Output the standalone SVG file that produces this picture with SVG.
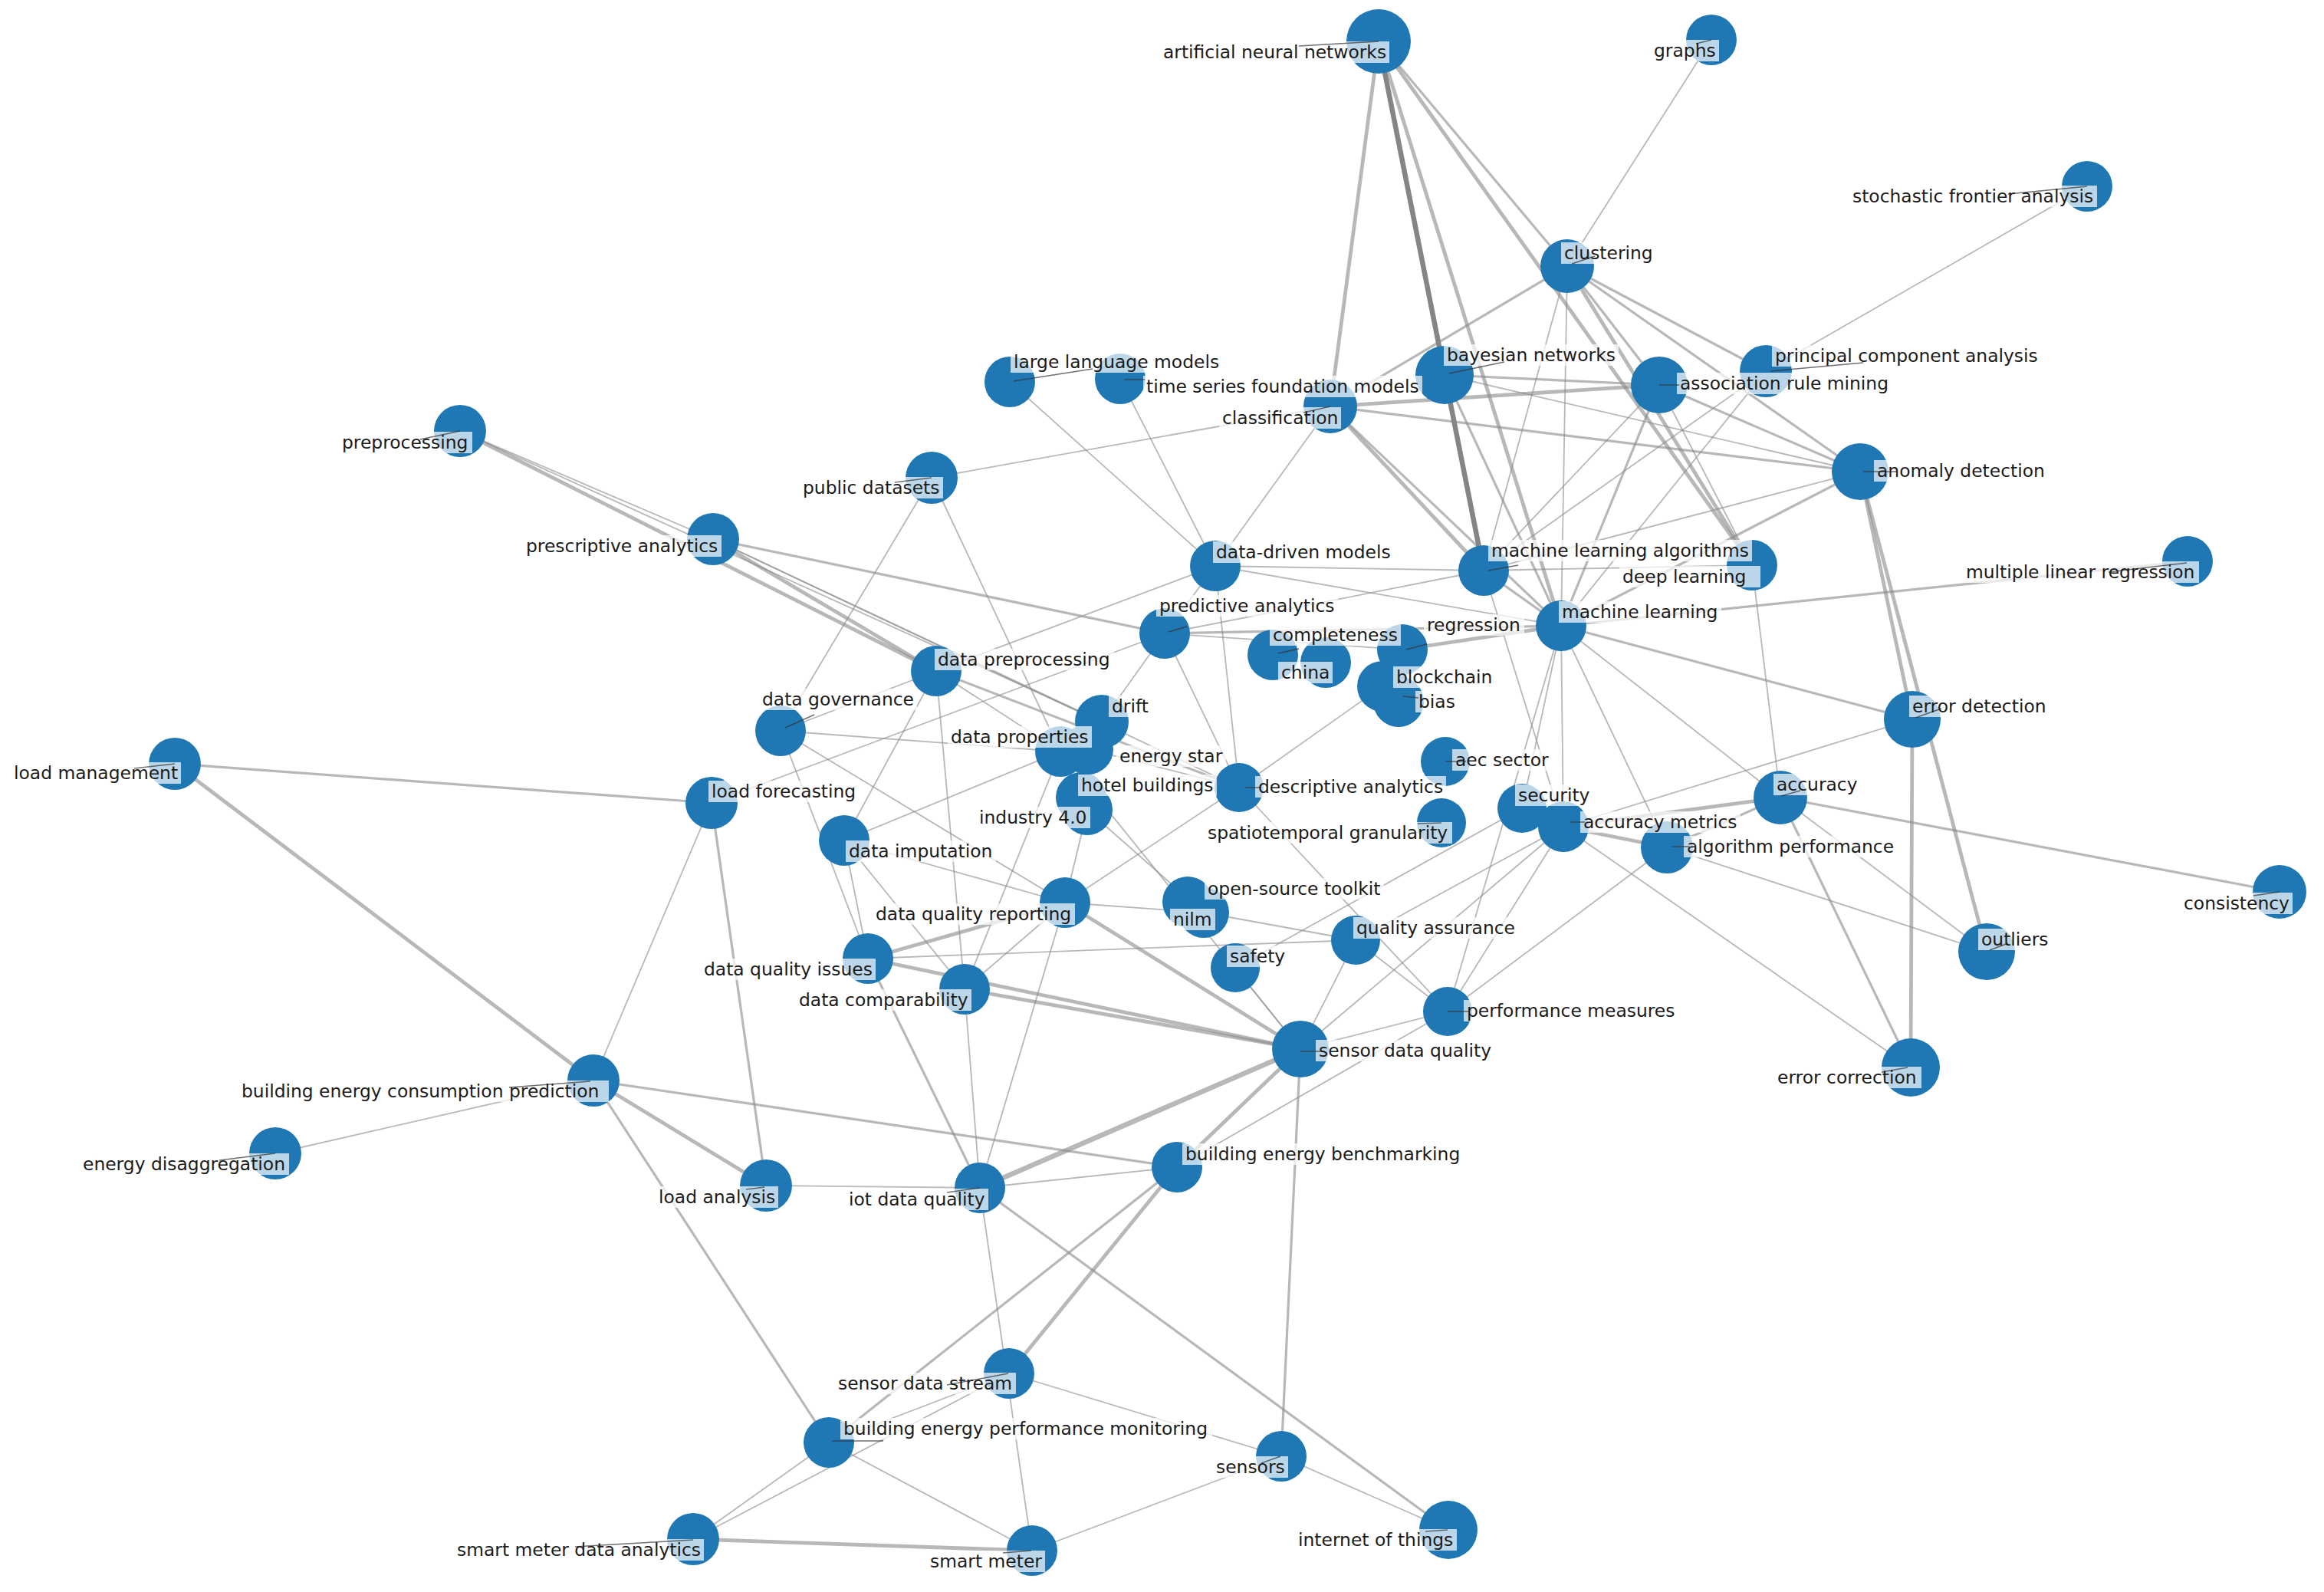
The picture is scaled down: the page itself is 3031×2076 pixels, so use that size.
<svg xmlns="http://www.w3.org/2000/svg" width="3031" height="2076" viewBox="0 0 3031 2076">
<style>
.e{stroke:#888;stroke-opacity:0.6;stroke-linecap:round;fill:none}
.w1{stroke-width:1.8}.w2{stroke-width:3.2}.w3{stroke-width:4.8}.w4{stroke-width:6.5}
.dk{stroke:#666;stroke-opacity:0.8}
.n{fill:#1f77b4}
.lb{fill:#fff;fill-opacity:0.7}
.ld{stroke:#333;stroke-opacity:0.7;stroke-width:1.5}
.t{font-family:"DejaVu Sans","Liberation Sans",sans-serif;font-size:23.4px;fill:#1a1a1a}
</style>
<rect width="3031" height="2076" fill="#fff"/>
<g id="connectors">
<line class="e w3" x1="1798" y1="54" x2="1735" y2="530"/>
<line class="e w4 dk" x1="1798" y1="54" x2="1935" y2="744"/>
<line class="e w3" x1="1798" y1="54" x2="2036" y2="816"/>
<line class="e w3" x1="1798" y1="54" x2="2285" y2="737"/>
<line class="e w2" x1="1798" y1="54" x2="2044" y2="347"/>
<line class="e w1" x1="2232" y1="52" x2="2044" y2="347"/>
<line class="e w1" x1="2722" y1="243" x2="2303" y2="484"/>
<line class="e w2" x1="2044" y1="347" x2="1735" y2="530"/>
<line class="e w1" x1="2044" y1="347" x2="1935" y2="744"/>
<line class="e w1" x1="2044" y1="347" x2="2036" y2="816"/>
<line class="e w3" x1="2044" y1="347" x2="2285" y2="737"/>
<line class="e w2" x1="2044" y1="347" x2="2303" y2="484"/>
<line class="e w2" x1="2044" y1="347" x2="2426" y2="615"/>
<line class="e w2" x1="2044" y1="347" x2="2164" y2="502"/>
<line class="e w3" x1="1735" y1="530" x2="2164" y2="502"/>
<line class="e w2" x1="1735" y1="530" x2="2426" y2="615"/>
<line class="e w3" x1="1735" y1="530" x2="1935" y2="744"/>
<line class="e w2" x1="1735" y1="530" x2="2036" y2="816"/>
<line class="e w1" x1="1735" y1="530" x2="1215" y2="623"/>
<line class="e w1" x1="1735" y1="530" x2="1585" y2="738"/>
<line class="e w2" x1="1884" y1="489" x2="2164" y2="502"/>
<line class="e w2" x1="1884" y1="489" x2="2036" y2="816"/>
<line class="e w1" x1="1884" y1="489" x2="2426" y2="615"/>
<line class="e w2" x1="2164" y1="502" x2="2426" y2="615"/>
<line class="e w1" x1="2164" y1="502" x2="1935" y2="744"/>
<line class="e w2" x1="2164" y1="502" x2="2036" y2="816"/>
<line class="e w1" x1="2164" y1="502" x2="2285" y2="737"/>
<line class="e w1" x1="2303" y1="484" x2="2036" y2="816"/>
<line class="e w1" x1="2303" y1="484" x2="1935" y2="744"/>
<line class="e w2" x1="2426" y1="615" x2="2036" y2="816"/>
<line class="e w1" x1="2426" y1="615" x2="1935" y2="744"/>
<line class="e w3" x1="2426" y1="615" x2="2494" y2="938"/>
<line class="e w3" x1="2426" y1="615" x2="2591" y2="1241"/>
<line class="e w1" x1="1317" y1="498" x2="1585" y2="738"/>
<line class="e w1" x1="1461" y1="494" x2="1585" y2="738"/>
<line class="e w1" x1="1215" y1="623" x2="1018" y2="953"/>
<line class="e w1" x1="1215" y1="623" x2="1383" y2="980"/>
<line class="e w3" x1="600" y1="562" x2="1221" y2="875"/>
<line class="e w1" x1="600" y1="562" x2="930" y2="703"/>
<line class="e w1" x1="600" y1="562" x2="1437" y2="941"/>
<line class="e w3" x1="930" y1="703" x2="1221" y2="875"/>
<line class="e w2" x1="930" y1="703" x2="1519" y2="826"/>
<line class="e w1" x1="930" y1="703" x2="1616" y2="1027"/>
<line class="e w1" x1="930" y1="703" x2="1437" y2="941"/>
<line class="e w1" x1="1585" y1="738" x2="1935" y2="744"/>
<line class="e w1" x1="1935" y1="744" x2="2285" y2="737"/>
<line class="e w1" x1="1585" y1="738" x2="2036" y2="816"/>
<line class="e w1" x1="1585" y1="738" x2="1519" y2="826"/>
<line class="e w1" x1="1585" y1="738" x2="1616" y2="1027"/>
<line class="e w1" x1="1221" y1="875" x2="1585" y2="738"/>
<line class="e w2" x1="1935" y1="744" x2="2036" y2="816"/>
<line class="e w1" x1="1935" y1="744" x2="1519" y2="826"/>
<line class="e w3" x1="2036" y1="816" x2="1829" y2="847"/>
<line class="e w2" x1="2036" y1="816" x2="2853" y2="732"/>
<line class="e w2" x1="2036" y1="816" x2="2494" y2="938"/>
<line class="e w1" x1="2036" y1="816" x2="2322" y2="1040"/>
<line class="e w1" x1="2036" y1="816" x2="2174" y2="1105"/>
<line class="e w1" x1="2036" y1="816" x2="2039" y2="1078"/>
<line class="e w1" x1="2036" y1="816" x2="1985" y2="1054"/>
<line class="e w2" x1="2036" y1="816" x2="1519" y2="826"/>
<line class="e w1" x1="2036" y1="816" x2="1888" y2="1319"/>
<line class="e w1" x1="1519" y1="826" x2="1829" y2="847"/>
<line class="e w3" x1="2494" y1="938" x2="2492" y2="1392"/>
<line class="e w1" x1="2494" y1="938" x2="2039" y2="1078"/>
<line class="e w2" x1="2322" y1="1040" x2="2973" y2="1163"/>
<line class="e w1" x1="2322" y1="1040" x2="2591" y2="1241"/>
<line class="e w2" x1="2322" y1="1040" x2="2492" y2="1392"/>
<line class="e w2" x1="2322" y1="1040" x2="2174" y2="1105"/>
<line class="e w3" x1="2322" y1="1040" x2="2039" y2="1078"/>
<line class="e w1" x1="2285" y1="737" x2="2322" y2="1040"/>
<line class="e w3" x1="2039" y1="1078" x2="1985" y2="1054"/>
<line class="e w3" x1="2039" y1="1078" x2="2174" y2="1105"/>
<line class="e w1" x1="2039" y1="1078" x2="2492" y2="1392"/>
<line class="e w1" x1="2039" y1="1078" x2="1888" y2="1319"/>
<line class="e w1" x1="2039" y1="1078" x2="1696" y2="1368"/>
<line class="e w1" x1="2039" y1="1078" x2="1768" y2="1226"/>
<line class="e w1" x1="2039" y1="1078" x2="1935" y2="744"/>
<line class="e w1" x1="2174" y1="1105" x2="2591" y2="1241"/>
<line class="e w1" x1="2174" y1="1105" x2="1888" y2="1319"/>
<line class="e w1" x1="1985" y1="1054" x2="1611" y2="1262"/>
<line class="e w1" x1="1616" y1="1027" x2="1803" y2="895"/>
<line class="e w1" x1="1616" y1="1027" x2="1888" y2="1319"/>
<line class="e w1" x1="1616" y1="1027" x2="1519" y2="826"/>
<line class="e w2" x1="1616" y1="1027" x2="1221" y2="875"/>
<line class="e w1" x1="1419" y1="977" x2="1616" y2="1027"/>
<line class="e w1" x1="1437" y1="941" x2="1519" y2="826"/>
<line class="e w2" x1="228" y1="996" x2="928" y2="1047"/>
<line class="e w3" x1="228" y1="996" x2="774" y2="1409"/>
<line class="e w1" x1="928" y1="1047" x2="774" y2="1409"/>
<line class="e w2" x1="928" y1="1047" x2="999" y2="1546"/>
<line class="e w1" x1="928" y1="1047" x2="1519" y2="826"/>
<line class="e w1" x1="774" y1="1409" x2="359" y2="1504"/>
<line class="e w3" x1="774" y1="1409" x2="999" y2="1546"/>
<line class="e w2" x1="774" y1="1409" x2="1535" y2="1522"/>
<line class="e w2" x1="774" y1="1409" x2="1081" y2="1881"/>
<line class="e w1" x1="999" y1="1546" x2="1278" y2="1549"/>
<line class="e w1" x1="1278" y1="1549" x2="1535" y2="1522"/>
<line class="e w4" x1="1278" y1="1549" x2="1696" y2="1368"/>
<line class="e w2" x1="1278" y1="1549" x2="1889" y2="1995"/>
<line class="e w1" x1="1278" y1="1549" x2="1258" y2="1290"/>
<line class="e w1" x1="1278" y1="1549" x2="1389" y2="1177"/>
<line class="e w2" x1="1278" y1="1549" x2="1132" y2="1250"/>
<line class="e w1" x1="1278" y1="1549" x2="1346" y2="2022"/>
<line class="e w3" x1="1535" y1="1522" x2="1316" y2="1791"/>
<line class="e w2" x1="1535" y1="1522" x2="1081" y2="1881"/>
<line class="e w3" x1="1696" y1="1368" x2="1535" y2="1522"/>
<line class="e w1" x1="1535" y1="1522" x2="1888" y2="1319"/>
<line class="e w2" x1="1696" y1="1368" x2="1671" y2="1899"/>
<line class="e w1" x1="1696" y1="1368" x2="1768" y2="1226"/>
<line class="e w1" x1="1696" y1="1368" x2="1611" y2="1262"/>
<line class="e w1" x1="1696" y1="1368" x2="1888" y2="1319"/>
<line class="e w1" x1="1696" y1="1368" x2="1383" y2="980"/>
<line class="e w3" x1="1696" y1="1368" x2="1389" y2="1177"/>
<line class="e w3" x1="1696" y1="1368" x2="1132" y2="1250"/>
<line class="e w3" x1="1696" y1="1368" x2="1258" y2="1290"/>
<line class="e w1" x1="1316" y1="1791" x2="1671" y2="1899"/>
<line class="e w1" x1="1316" y1="1791" x2="1081" y2="1881"/>
<line class="e w1" x1="904" y1="2007" x2="1081" y2="1881"/>
<line class="e w1" x1="904" y1="2007" x2="1316" y2="1791"/>
<line class="e w3" x1="904" y1="2007" x2="1346" y2="2022"/>
<line class="e w1" x1="1081" y1="1881" x2="1346" y2="2022"/>
<line class="e w1" x1="1346" y1="2022" x2="1671" y2="1899"/>
<line class="e w1" x1="1671" y1="1899" x2="1889" y2="1995"/>
<line class="e w1" x1="1018" y1="953" x2="1383" y2="980"/>
<line class="e w1" x1="1018" y1="953" x2="1221" y2="875"/>
<line class="e w1" x1="1018" y1="953" x2="1389" y2="1177"/>
<line class="e w1" x1="1018" y1="953" x2="1132" y2="1250"/>
<line class="e w1" x1="1221" y1="875" x2="1258" y2="1290"/>
<line class="e w1" x1="1221" y1="875" x2="1101" y2="1096"/>
<line class="e w1" x1="1221" y1="875" x2="1383" y2="980"/>
<line class="e w1" x1="1101" y1="1096" x2="1383" y2="980"/>
<line class="e w1" x1="1101" y1="1096" x2="1389" y2="1177"/>
<line class="e w1" x1="1101" y1="1096" x2="1132" y2="1250"/>
<line class="e w1" x1="1101" y1="1096" x2="1258" y2="1290"/>
<line class="e w3" x1="1389" y1="1177" x2="1132" y2="1250"/>
<line class="e w1" x1="1389" y1="1177" x2="1258" y2="1290"/>
<line class="e w1" x1="1389" y1="1177" x2="1570" y2="1190"/>
<line class="e w1" x1="1389" y1="1177" x2="1418" y2="1056"/>
<line class="e w1" x1="1389" y1="1177" x2="1616" y2="1027"/>
<line class="e w1" x1="1132" y1="1250" x2="1768" y2="1226"/>
<line class="e w1" x1="1258" y1="1290" x2="1383" y2="980"/>
<line class="e w1" x1="1418" y1="1056" x2="1570" y2="1190"/>
<line class="e w1" x1="1768" y1="1226" x2="1888" y2="1319"/>
<line class="e w1" x1="1570" y1="1190" x2="1768" y2="1226"/>
</g>
<g id="nodes">
<g id="node-ann"><circle class="n" cx="1798" cy="54" r="42"/></g>
<g id="node-graphs"><circle class="n" cx="2232" cy="52" r="33"/></g>
<g id="node-sfa"><circle class="n" cx="2722" cy="243" r="33"/></g>
<g id="node-clustering"><circle class="n" cx="2044" cy="347" r="35"/></g>
<g id="node-pca"><circle class="n" cx="2303" cy="484" r="34"/></g>
<g id="node-bayes"><circle class="n" cx="1884" cy="489" r="38"/></g>
<g id="node-arm"><circle class="n" cx="2164" cy="502" r="37"/></g>
<g id="node-llm"><circle class="n" cx="1317" cy="498" r="33"/></g>
<g id="node-tsfm"><circle class="n" cx="1461" cy="494" r="33"/></g>
<g id="node-classification"><circle class="n" cx="1735" cy="530" r="35"/></g>
<g id="node-preprocessing"><circle class="n" cx="600" cy="562" r="34"/></g>
<g id="node-public"><circle class="n" cx="1215" cy="623" r="34"/></g>
<g id="node-anomaly"><circle class="n" cx="2426" cy="615" r="37"/></g>
<g id="node-prescriptive"><circle class="n" cx="930" cy="703" r="34"/></g>
<g id="node-ddm"><circle class="n" cx="1585" cy="738" r="33"/></g>
<g id="node-mla"><circle class="n" cx="1935" cy="744" r="33"/></g>
<g id="node-deeplearning"><circle class="n" cx="2285" cy="737" r="33"/></g>
<g id="node-mlr"><circle class="n" cx="2853" cy="732" r="33"/></g>
<g id="node-ml"><circle class="n" cx="2036" cy="816" r="33"/></g>
<g id="node-predictive"><circle class="n" cx="1519" cy="826" r="33"/></g>
<g id="node-regression"><circle class="n" cx="1829" cy="847" r="33"/></g>
<g id="node-completeness"><circle class="n" cx="1660" cy="854" r="33"/></g>
<g id="node-china"><circle class="n" cx="1729" cy="864" r="33"/></g>
<g id="node-blockchain"><circle class="n" cx="1803" cy="895" r="33"/></g>
<g id="node-bias"><circle class="n" cx="1824" cy="915" r="33"/></g>
<g id="node-dataprep"><circle class="n" cx="1221" cy="875" r="33"/></g>
<g id="node-drift"><circle class="n" cx="1437" cy="941" r="35"/></g>
<g id="node-datagov"><circle class="n" cx="1018" cy="953" r="33"/></g>
<g id="node-dataprop"><circle class="n" cx="1383" cy="980" r="33"/></g>
<g id="node-energystar"><circle class="n" cx="1419" cy="977" r="33"/></g>
<g id="node-errordet"><circle class="n" cx="2494" cy="938" r="37"/></g>
<g id="node-loadmgmt"><circle class="n" cx="228" cy="996" r="34"/></g>
<g id="node-loadfc"><circle class="n" cx="928" cy="1047" r="34"/></g>
<g id="node-hotel"><circle class="n" cx="1410" cy="1040" r="33"/></g>
<g id="node-industry"><circle class="n" cx="1418" cy="1056" r="33"/></g>
<g id="node-descriptive"><circle class="n" cx="1616" cy="1027" r="32"/></g>
<g id="node-aec"><circle class="n" cx="1885" cy="993" r="32"/></g>
<g id="node-security"><circle class="n" cx="1985" cy="1054" r="32"/></g>
<g id="node-accmetrics"><circle class="n" cx="2039" cy="1078" r="33"/></g>
<g id="node-accuracy"><circle class="n" cx="2322" cy="1040" r="35"/></g>
<g id="node-spatio"><circle class="n" cx="1880" cy="1073" r="32"/></g>
<g id="node-algperf"><circle class="n" cx="2174" cy="1105" r="34"/></g>
<g id="node-dataimp"><circle class="n" cx="1101" cy="1096" r="33"/></g>
<g id="node-consistency"><circle class="n" cx="2973" cy="1163" r="35"/></g>
<g id="node-dqr"><circle class="n" cx="1389" cy="1177" r="33"/></g>
<g id="node-opensource"><circle class="n" cx="1549" cy="1176" r="33"/></g>
<g id="node-nilm"><circle class="n" cx="1570" cy="1190" r="33"/></g>
<g id="node-outliers"><circle class="n" cx="2591" cy="1241" r="37"/></g>
<g id="node-qa"><circle class="n" cx="1768" cy="1226" r="32"/></g>
<g id="node-safety"><circle class="n" cx="1611" cy="1262" r="32"/></g>
<g id="node-dqi"><circle class="n" cx="1132" cy="1250" r="33"/></g>
<g id="node-dcomp"><circle class="n" cx="1258" cy="1290" r="33"/></g>
<g id="node-perfmeas"><circle class="n" cx="1888" cy="1319" r="32"/></g>
<g id="node-sdq"><circle class="n" cx="1696" cy="1368" r="37"/></g>
<g id="node-errcorr"><circle class="n" cx="2492" cy="1392" r="38"/></g>
<g id="node-becp"><circle class="n" cx="774" cy="1409" r="34"/></g>
<g id="node-disagg"><circle class="n" cx="359" cy="1504" r="34"/></g>
<g id="node-bench"><circle class="n" cx="1535" cy="1522" r="33"/></g>
<g id="node-loadanal"><circle class="n" cx="999" cy="1546" r="34"/></g>
<g id="node-iotdq"><circle class="n" cx="1278" cy="1549" r="33"/></g>
<g id="node-sds"><circle class="n" cx="1316" cy="1791" r="33"/></g>
<g id="node-bepm"><circle class="n" cx="1081" cy="1881" r="33"/></g>
<g id="node-sensors"><circle class="n" cx="1671" cy="1899" r="33"/></g>
<g id="node-iot"><circle class="n" cx="1889" cy="1995" r="38"/></g>
<g id="node-smda"><circle class="n" cx="904" cy="2007" r="34"/></g>
<g id="node-smartmeter"><circle class="n" cx="1346" cy="2022" r="33"/></g>
</g>
<g id="labels">
<g id="label-ann"><rect class="lb" x="1513" y="54" width="299" height="28"/><line class="ld" x1="1694" y1="60" x2="1798" y2="54"/><text class="t" x="1517" y="76">artificial neural networks</text></g>
<g id="label-graphs"><rect class="lb" x="2153" y="52" width="89" height="28"/><line class="ld" x1="2212" y1="57" x2="2232" y2="52"/><text class="t" x="2157" y="74">graphs</text></g>
<g id="label-sfa"><rect class="lb" x="2412" y="242" width="323" height="28"/><line class="ld" x1="2619" y1="253" x2="2722" y2="243"/><text class="t" x="2416" y="264">stochastic frontier analysis</text></g>
<g id="label-clustering"><rect class="lb" x="2036" y="316" width="124" height="28"/><line class="ld" x1="2050" y1="344" x2="2080" y2="334"/><text class="t" x="2040" y="338">clustering</text></g>
<g id="label-pca"><rect class="lb" x="2311" y="450" width="351" height="28"/><line class="ld" x1="2309" y1="484" x2="2430" y2="473"/><text class="t" x="2315" y="472">principal component analysis</text></g>
<g id="label-bayes"><rect class="lb" x="1883" y="449" width="228" height="28"/><line class="ld" x1="1890" y1="487" x2="1962" y2="472"/><text class="t" x="1887" y="471">bayesian networks</text></g>
<g id="label-arm"><rect class="lb" x="2187" y="486" width="280" height="28"/><line class="ld" x1="2164" y1="502" x2="2190" y2="502"/><text class="t" x="2191" y="508">association rule mining</text></g>
<g id="label-llm"><rect class="lb" x="1318" y="458" width="277" height="28"/><line class="ld" x1="1322" y1="497" x2="1425" y2="481"/><text class="t" x="1322" y="480">large language models</text></g>
<g id="label-tsfm"><rect class="lb" x="1491" y="490" width="364" height="28"/><line class="ld" x1="1466" y1="495" x2="1493" y2="495"/><text class="t" x="1495" y="512">time series foundation models</text></g>
<g id="label-classification"><rect class="lb" x="1590" y="531" width="159" height="28"/><line class="ld" x1="1700" y1="538" x2="1735" y2="530"/><text class="t" x="1594" y="553">classification</text></g>
<g id="label-preprocessing"><rect class="lb" x="442" y="563" width="174" height="28"/><line class="ld" x1="548" y1="573" x2="600" y2="562"/><text class="t" x="446" y="585">preprocessing</text></g>
<g id="label-public"><rect class="lb" x="1043" y="622" width="187" height="28"/><line class="ld" x1="1167" y1="629" x2="1215" y2="623"/><text class="t" x="1047" y="644">public datasets</text></g>
<g id="label-anomaly"><rect class="lb" x="2444" y="600" width="227" height="28"/><line class="ld" x1="2430" y1="615" x2="2474" y2="615"/><text class="t" x="2448" y="622">anomaly detection</text></g>
<g id="label-prescriptive"><rect class="lb" x="682" y="698" width="259" height="28"/><text class="t" x="686" y="720">prescriptive analytics</text></g>
<g id="label-ddm"><rect class="lb" x="1582" y="706" width="236" height="28"/><text class="t" x="1586" y="728">data-driven models</text></g>
<g id="label-mla"><rect class="lb" x="1941" y="704" width="344" height="28"/><line class="ld" x1="1941" y1="744" x2="1980" y2="737"/><text class="t" x="1945" y="726">machine learning algorithms</text></g>
<g id="label-deeplearning"><rect class="lb" x="2112" y="738" width="184" height="28"/><text class="t" x="2116" y="760">deep learning</text></g>
<g id="label-mlr"><rect class="lb" x="2560" y="732" width="308" height="28"/><line class="ld" x1="2750" y1="746" x2="2852" y2="734"/><text class="t" x="2564" y="754">multiple linear regression</text></g>
<g id="label-ml"><rect class="lb" x="2033" y="784" width="212" height="28"/><text class="t" x="2037" y="806">machine learning</text></g>
<g id="label-predictive"><rect class="lb" x="1508" y="776" width="237" height="28"/><line class="ld" x1="1524" y1="824" x2="1548" y2="817"/><text class="t" x="1512" y="798">predictive analytics</text></g>
<g id="label-regression"><rect class="lb" x="1857" y="801" width="131" height="28"/><line class="ld" x1="1834" y1="847" x2="1861" y2="840"/><text class="t" x="1861" y="823">regression</text></g>
<g id="label-completeness"><rect class="lb" x="1656" y="814" width="171" height="28"/><line class="ld" x1="1667" y1="852" x2="1694" y2="846"/><text class="t" x="1660" y="836">completeness</text></g>
<g id="label-china"><rect class="lb" x="1667" y="863" width="71" height="28"/><text class="t" x="1671" y="885">china</text></g>
<g id="label-blockchain"><rect class="lb" x="1817" y="869" width="133" height="28"/><text class="t" x="1821" y="891">blockchain</text></g>
<g id="label-bias"><rect class="lb" x="1846" y="901" width="56" height="28"/><line class="ld" x1="1830" y1="908" x2="1850" y2="910"/><text class="t" x="1850" y="923">bias</text></g>
<g id="label-dataprep"><rect class="lb" x="1219" y="846" width="234" height="28"/><text class="t" x="1223" y="868">data preprocessing</text></g>
<g id="label-drift"><rect class="lb" x="1446" y="907" width="56" height="28"/><text class="t" x="1450" y="929">drift</text></g>
<g id="label-datagov"><rect class="lb" x="990" y="898" width="206" height="28"/><line class="ld" x1="1024" y1="949" x2="1062" y2="932"/><text class="t" x="994" y="920">data governance</text></g>
<g id="label-dataprop"><rect class="lb" x="1236" y="947" width="188" height="28"/><text class="t" x="1240" y="969">data properties</text></g>
<g id="label-energystar"><rect class="lb" x="1456" y="972" width="143" height="28"/><text class="t" x="1460" y="994">energy star</text></g>
<g id="label-errordet"><rect class="lb" x="2490" y="907" width="184" height="28"/><line class="ld" x1="2498" y1="936" x2="2532" y2="924"/><text class="t" x="2494" y="929">error detection</text></g>
<g id="label-loadmgmt"><rect class="lb" x="14" y="994" width="222" height="28"/><line class="ld" x1="175" y1="1002" x2="228" y2="996"/><text class="t" x="18" y="1016">load management</text></g>
<g id="label-loadfc"><rect class="lb" x="924" y="1018" width="197" height="28"/><text class="t" x="928" y="1040">load forecasting</text></g>
<g id="label-hotel"><rect class="lb" x="1406" y="1010" width="181" height="28"/><text class="t" x="1410" y="1032">hotel buildings</text></g>
<g id="label-industry"><rect class="lb" x="1273" y="1052" width="149" height="28"/><text class="t" x="1277" y="1074">industry 4.0</text></g>
<g id="label-descriptive"><rect class="lb" x="1637" y="1012" width="249" height="28"/><line class="ld" x1="1624" y1="1027" x2="1645" y2="1027"/><text class="t" x="1641" y="1034">descriptive analytics</text></g>
<g id="label-aec"><rect class="lb" x="1894" y="977" width="130" height="28"/><line class="ld" x1="1885" y1="993" x2="1912" y2="993"/><text class="t" x="1898" y="999">aec sector</text></g>
<g id="label-security"><rect class="lb" x="1976" y="1023" width="101" height="28"/><text class="t" x="1980" y="1045">security</text></g>
<g id="label-accmetrics"><rect class="lb" x="2061" y="1058" width="209" height="28"/><line class="ld" x1="2048" y1="1072" x2="2067" y2="1072"/><text class="t" x="2065" y="1080">accuracy metrics</text></g>
<g id="label-accuracy"><rect class="lb" x="2313" y="1009" width="114" height="28"/><line class="ld" x1="2323" y1="1038" x2="2348" y2="1031"/><text class="t" x="2317" y="1031">accuracy</text></g>
<g id="label-spatio"><rect class="lb" x="1571" y="1072" width="323" height="28"/><line class="ld" x1="1849" y1="1074" x2="1880" y2="1073"/><text class="t" x="1575" y="1094">spatiotemporal granularity</text></g>
<g id="label-algperf"><rect class="lb" x="2196" y="1090" width="279" height="28"/><line class="ld" x1="2181" y1="1104" x2="2203" y2="1104"/><text class="t" x="2200" y="1112">algorithm performance</text></g>
<g id="label-dataimp"><rect class="lb" x="1103" y="1096" width="196" height="28"/><text class="t" x="1107" y="1118">data imputation</text></g>
<g id="label-consistency"><rect class="lb" x="2844" y="1164" width="146" height="28"/><line class="ld" x1="2939" y1="1168" x2="2973" y2="1163"/><text class="t" x="2848" y="1186">consistency</text></g>
<g id="label-dqr"><rect class="lb" x="1138" y="1178" width="264" height="28"/><text class="t" x="1142" y="1200">data quality reporting</text></g>
<g id="label-opensource"><rect class="lb" x="1571" y="1145" width="234" height="28"/><text class="t" x="1575" y="1167">open-source toolkit</text></g>
<g id="label-nilm"><rect class="lb" x="1526" y="1185" width="59" height="28"/><text class="t" x="1530" y="1207">nilm</text></g>
<g id="label-outliers"><rect class="lb" x="2580" y="1211" width="96" height="28"/><line class="ld" x1="2595" y1="1239" x2="2619" y2="1230"/><text class="t" x="2584" y="1233">outliers</text></g>
<g id="label-qa"><rect class="lb" x="1765" y="1196" width="215" height="28"/><text class="t" x="1769" y="1218">quality assurance</text></g>
<g id="label-safety"><rect class="lb" x="1600" y="1233" width="80" height="28"/><text class="t" x="1604" y="1255">safety</text></g>
<g id="label-dqi"><rect class="lb" x="914" y="1250" width="228" height="28"/><text class="t" x="918" y="1272">data quality issues</text></g>
<g id="label-dcomp"><rect class="lb" x="1038" y="1290" width="229" height="28"/><text class="t" x="1042" y="1312">data comparability</text></g>
<g id="label-perfmeas"><rect class="lb" x="1909" y="1304" width="280" height="28"/><line class="ld" x1="1888" y1="1319" x2="1917" y2="1319"/><text class="t" x="1913" y="1326">performance measures</text></g>
<g id="label-sdq"><rect class="lb" x="1716" y="1356" width="233" height="28"/><line class="ld" x1="1696" y1="1371" x2="1728" y2="1371"/><text class="t" x="1720" y="1378">sensor data quality</text></g>
<g id="label-errcorr"><rect class="lb" x="2314" y="1391" width="192" height="28"/><line class="ld" x1="2454" y1="1398" x2="2488" y2="1392"/><text class="t" x="2318" y="1413">error correction</text></g>
<g id="label-becp"><rect class="lb" x="311" y="1409" width="483" height="28"/><line class="ld" x1="664" y1="1418" x2="770" y2="1410"/><text class="t" x="315" y="1431">building energy consumption prediction</text></g>
<g id="label-disagg"><rect class="lb" x="104" y="1504" width="273" height="28"/><line class="ld" x1="286" y1="1513" x2="359" y2="1504"/><text class="t" x="108" y="1526">energy disaggregation</text></g>
<g id="label-bench"><rect class="lb" x="1542" y="1491" width="367" height="28"/><text class="t" x="1546" y="1513">building energy benchmarking</text></g>
<g id="label-loadanal"><rect class="lb" x="855" y="1547" width="160" height="28"/><line class="ld" x1="973" y1="1551" x2="997" y2="1548"/><text class="t" x="859" y="1569">load analysis</text></g>
<g id="label-iotdq"><rect class="lb" x="1103" y="1550" width="186" height="28"/><line class="ld" x1="1235" y1="1555" x2="1278" y2="1549"/><text class="t" x="1107" y="1572">iot data quality</text></g>
<g id="label-sds"><rect class="lb" x="1089" y="1790" width="236" height="28"/><line class="ld" x1="1235" y1="1806" x2="1315" y2="1791"/><text class="t" x="1093" y="1812">sensor data stream</text></g>
<g id="label-bepm"><rect class="lb" x="1096" y="1849" width="485" height="28"/><line class="ld" x1="1085" y1="1879" x2="1152" y2="1879"/><text class="t" x="1100" y="1871">building energy performance monitoring</text></g>
<g id="label-sensors"><rect class="lb" x="1582" y="1899" width="98" height="28"/><line class="ld" x1="1645" y1="1908" x2="1670" y2="1899"/><text class="t" x="1586" y="1921">sensors</text></g>
<g id="label-iot"><rect class="lb" x="1689" y="1994" width="211" height="28"/><line class="ld" x1="1859" y1="1997" x2="1888" y2="1995"/><text class="t" x="1693" y="2016">internet of things</text></g>
<g id="label-smda"><rect class="lb" x="592" y="2007" width="326" height="28"/><line class="ld" x1="750" y1="2017" x2="904" y2="2008"/><text class="t" x="596" y="2029">smart meter data analytics</text></g>
<g id="label-smartmeter"><rect class="lb" x="1209" y="2022" width="154" height="28"/><line class="ld" x1="1308" y1="2025" x2="1345" y2="2022"/><text class="t" x="1213" y="2044">smart meter</text></g>
</g>
</svg>
